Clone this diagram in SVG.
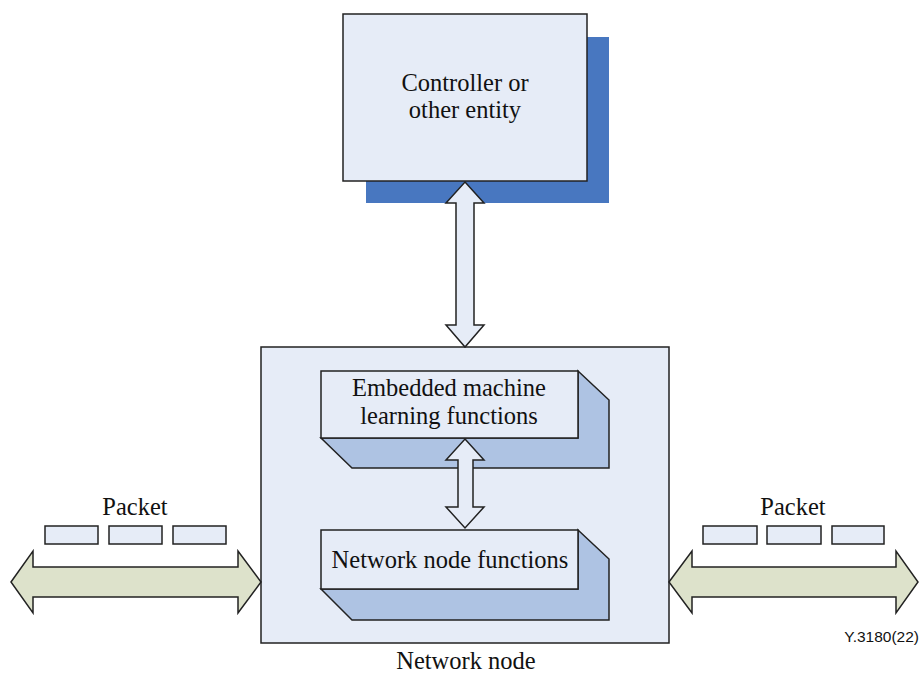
<svg xmlns="http://www.w3.org/2000/svg" width="921" height="673" viewBox="0 0 921 673">
<style>
.box{fill:#e6ecf7;stroke:#222;stroke-width:1.5}
.side{fill:#aec3e3;stroke:#222;stroke-width:1.5;stroke-linejoin:miter}
.arr{fill:#e6ecf7;stroke:#222;stroke-width:1.5}
.garr{fill:#dde2cb;stroke:#222;stroke-width:1.5}
.pkt{fill:#e6ecf7;stroke:#222;stroke-width:1.5}
.t{font-family:"Liberation Serif","Times New Roman",serif;font-size:24.5px;fill:#111;text-anchor:middle}
</style>
<rect width="921" height="673" fill="#fff"/>
<g id="controller">
<rect x="366" y="37" width="243" height="166" fill="#4877c0"/>
<rect class="box" x="343" y="14" width="244" height="167"/>
<text class="t" x="465" y="91">Controller or</text>
<text class="t" x="465" y="118">other entity</text>
</g>
<g id="network-node">
<rect class="box" x="261" y="347" width="408" height="296"/>
<text class="t" x="466" y="669">Network node</text>
</g>
<g id="eml">
<polygon class="side" points="578,371 609,400 609,468 352,468 321,438 578,438"/>
<rect class="box" x="321" y="371" width="257" height="67"/>
<text class="t" x="449" y="396">Embedded machine</text>
<text class="t" x="449" y="424">learning functions</text>
</g>
<g id="nnf">
<polygon class="side" points="578,530 609,559 609,620 352,620 321,589 578,589"/>
<rect class="box" x="321" y="530" width="257" height="59"/>
<text class="t" x="450" y="568">Network node functions</text>
</g>
<g id="packets-left">
<text class="t" x="135" y="515">Packet</text>
<rect class="pkt" x="45" y="526" width="53" height="18"/>
<rect class="pkt" x="109" y="526" width="53" height="18"/>
<rect class="pkt" x="173" y="526" width="53" height="18"/>
</g>
<g id="packets-right">
<text class="t" x="793" y="515">Packet</text>
<rect class="pkt" x="703" y="526" width="54" height="18"/>
<rect class="pkt" x="767" y="526" width="54" height="18"/>
<rect class="pkt" x="832" y="526" width="52" height="18"/>
</g>
<g id="connectors">
<polygon class="arr" points="465,182 484,203 474,203 474,325 484,325 465,347 446,325 456,325 456,203 446,203"/>
<polygon class="arr" points="465,439 484,460 473,460 473,507 484,507 465,528 446,507 458,507 458,460 446,460"/>
<polygon class="garr" points="11,582 33,551 33,567 238,567 238,551 261,582 238,613 238,597 33,597 33,613"/>
<polygon class="garr" points="669,582 692,551 692,567 896,567 896,551 918,582 896,613 896,597 692,597 692,613"/>
</g>
<text x="919" y="642" font-family="'Liberation Sans',Arial,sans-serif" font-size="15.5" fill="#111" text-anchor="end">Y.3180(22)</text>
</svg>
